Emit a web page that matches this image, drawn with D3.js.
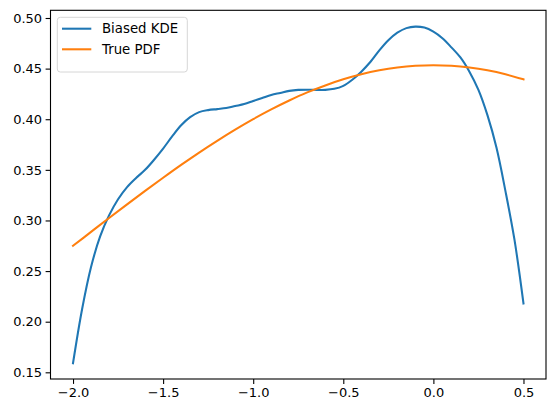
<!DOCTYPE html>
<html>
<head>
<meta charset="utf-8">
<script src="https://cdn.jsdelivr.net/npm/d3@7"></script>
<style>
html,body{margin:0;padding:0;background:#fff;}
text{font-family:"DejaVu Sans",sans-serif;fill:#000;}
</style>
</head>
<body>
<svg id="chart" width="556" height="413"></svg>
<script>
// ---- data ----
const kdeX = [-2.00,-1.95,-1.90,-1.85,-1.80,-1.75,-1.70,-1.65,-1.60,-1.55,-1.50,-1.45,-1.40,-1.35,-1.30,-1.25,-1.20,-1.15,-1.10,-1.05,-1.00,-0.95,-0.90,-0.85,-0.80,-0.75,-0.70,-0.65,-0.60,-0.55,-0.50,-0.45,-0.40,-0.35,-0.30,-0.25,-0.20,-0.15,-0.10,-0.05,0.00,0.05,0.10,0.15,0.20,0.25,0.30,0.35,0.40,0.45,0.50];
const kdeY = [0.159,0.212,0.254,0.284,0.305,0.321,0.333,0.342,0.350,0.360,0.371,0.383,0.394,0.402,0.407,0.409,0.410,0.411,0.413,0.415,0.418,0.421,0.424,0.426,0.428,0.429,0.4292,0.4290,0.4290,0.4300,0.4330,0.4390,0.4470,0.4565,0.4680,0.4780,0.4855,0.4900,0.4915,0.4905,0.4865,0.4800,0.4710,0.4610,0.4470,0.4290,0.4040,0.3720,0.3290,0.2810,0.2180];
const pdfX = [-2.0,-1.9,-1.8,-1.7,-1.6,-1.5,-1.4,-1.3,-1.2,-1.1,-1.0,-0.9,-0.8,-0.7,-0.6,-0.5,-0.4,-0.3,-0.2,-0.1,0.0,0.1,0.2,0.3,0.4,0.5];
const pdfY = [0.2750,0.2887,0.3024,0.3159,0.3292,0.3422,0.3549,0.3671,0.3787,0.3897,0.4001,0.4097,0.4185,0.4265,0.4334,0.4394,0.4444,0.4483,0.4511,0.4528,0.4534,0.4528,0.4511,0.4483,0.4444,0.4394];
const seriesNames = ["Biased KDE","True PDF"];
const seriesColors = ["#1f77b4","#ff7f0e"];
const xTicks = [-2.0,-1.5,-1.0,-0.5,0.0,0.5];
const yTicks = [0.15,0.20,0.25,0.30,0.35,0.40,0.45,0.50];

// ---- layout ----
const L = 50.5, R = 546, T = 10.3, B = 379;
const svg = d3.select("#chart");
const x = d3.scaleLinear().domain([-2.125, 0.625]).range([L, R]);
const y = d3.scaleLinear().domain([0.1434, 0.5076]).range([B, T]);

const fs = 13;
const fmt = d => d3.format(".1f")(d).replace("-", "\u2212");
const xAxis = svg.append("g").attr("transform", `translate(0,${B})`)
  .call(d3.axisBottom(x).tickValues(xTicks).tickFormat(fmt).tickSizeOuter(0).tickSize(4.9).tickPadding(3.5));
const yAxis = svg.append("g").attr("transform", `translate(${L},0)`)
  .call(d3.axisLeft(y).tickValues(yTicks).tickFormat(d3.format(".2f")).tickSizeOuter(0).tickSize(4.9).tickPadding(3.5));
[xAxis, yAxis].forEach(g => {
  g.select(".domain").remove();
  g.selectAll(".tick line").attr("stroke", "#000").attr("stroke-width", 1.1);
  g.selectAll(".tick text").attr("font-size", fs).attr("font-family", "DejaVu Sans").attr("fill", "#000");
});

svg.append("clipPath").attr("id", "c").append("rect")
  .attr("x", L).attr("y", T).attr("width", R - L).attr("height", B - T);

const line = d3.line().x(d => x(d[0])).y(d => y(d[1])).curve(d3.curveCatmullRom.alpha(0.5));
const kde = kdeX.map((v, i) => [v, kdeY[i]]);
const pdf = pdfX.map((v, i) => [v, pdfY[i]]);
const plot = svg.append("g").attr("clip-path", "url(#c)");
plot.append("path").datum(kde).attr("d", line).attr("fill", "none")
  .attr("stroke", seriesColors[0]).attr("stroke-width", 2.08).attr("stroke-linecap", "square").attr("stroke-linejoin", "round");
plot.append("path").datum(pdf).attr("d", line).attr("fill", "none")
  .attr("stroke", seriesColors[1]).attr("stroke-width", 2.08).attr("stroke-linecap", "square").attr("stroke-linejoin", "round");

// frame
svg.append("rect").attr("x", L).attr("y", T).attr("width", R - L).attr("height", B - T)
  .attr("fill", "none").attr("stroke", "#000").attr("stroke-width", 1.1);

// legend
const lg = svg.append("g");
lg.append("rect").attr("x", 57.3).attr("y", 17.3).attr("width", 130).attr("height", 54.7)
  .attr("rx", 3).attr("fill", "#fff").attr("fill-opacity", 0.8).attr("stroke", "#d6d6d6").attr("stroke-width", 1);
seriesNames.forEach((n, i) => {
  const cy = 28.7 + i * 20.6;
  lg.append("line").attr("x1", 62).attr("x2", 91.3).attr("y1", cy).attr("y2", cy)
    .attr("stroke", seriesColors[i]).attr("stroke-width", 2.08);
  lg.append("text").attr("x", 102).attr("y", cy).attr("dy", "0.36em")
    .attr("font-size", 13.3).text(n);
});
</script>
</body>
</html>
